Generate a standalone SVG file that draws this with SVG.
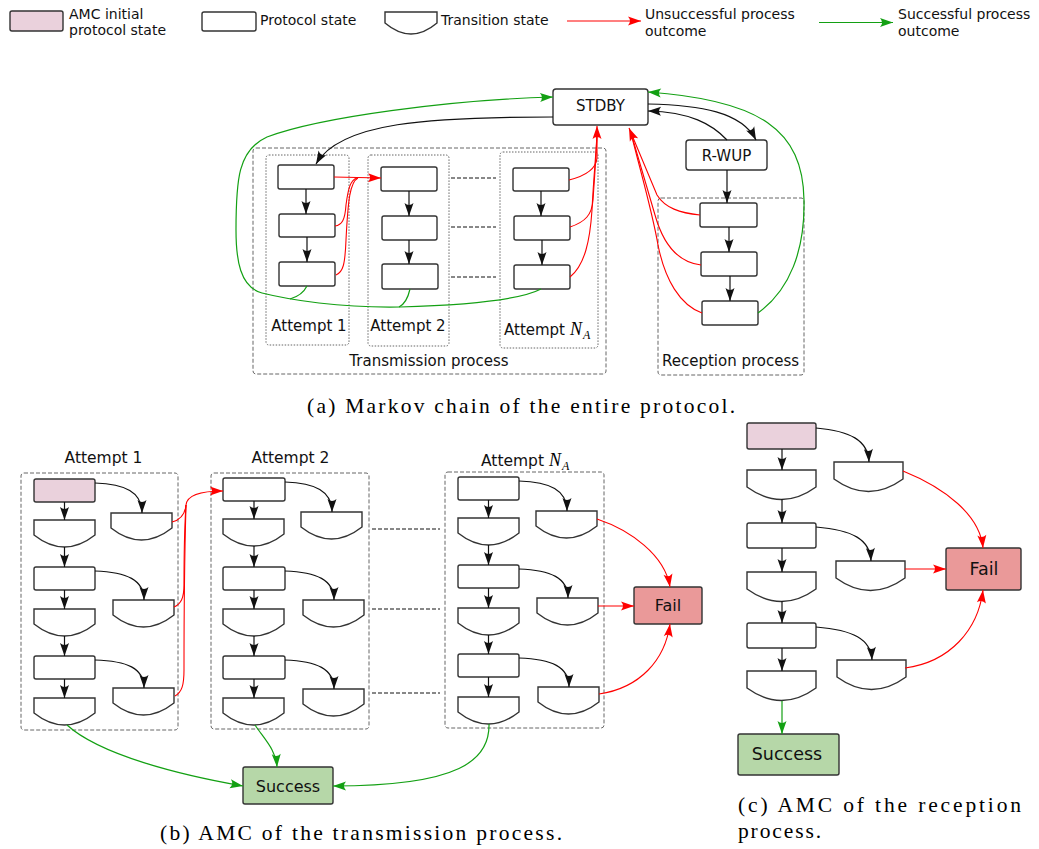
<svg xmlns="http://www.w3.org/2000/svg" width="1039" height="849" viewBox="0 0 1039 849">
<style>
.box{fill:#fff;stroke:#333;stroke-width:1.4}
.init{fill:#ead1dc;stroke:#333;stroke-width:1.4}
.ok{fill:#b6d7a8;stroke:#333;stroke-width:1.4}
.fail{fill:#ea9999;stroke:#333;stroke-width:1.4}
.dash{fill:none;stroke:#666;stroke-width:1;stroke-dasharray:4 2}
.dot{fill:none;stroke:#666;stroke-width:1;stroke-dasharray:1.5 1.5}
.k{fill:none;stroke:#111;stroke-width:1.2}
.r{fill:none;stroke:#f00;stroke-width:1.1}
.g{fill:none;stroke:#13a013;stroke-width:1.2}
.hd{fill:none;stroke:#111;stroke-width:1;stroke-dasharray:4 2}
.lbl{font-family:"DejaVu Sans","Liberation Sans",sans-serif;fill:#111}
.cap{font-family:"Liberation Serif",serif;font-size:21.5px;fill:#000}
.mi{font-family:"Liberation Serif",serif;font-style:italic}
</style>
<defs>
<marker id="ak" viewBox="-14 -6 15 12" refX="0" refY="0" markerWidth="15" markerHeight="12" markerUnits="userSpaceOnUse" orient="auto"><path d="M0,0 L-13,-4.5 Q-9,0 -13,4.5 Z" fill="#111"/></marker>
<marker id="ar" viewBox="-14 -6 15 12" refX="0" refY="0" markerWidth="15" markerHeight="12" markerUnits="userSpaceOnUse" orient="auto"><path d="M0,0 L-13,-4.5 Q-9,0 -13,4.5 Z" fill="#f00"/></marker>
<marker id="ag" viewBox="-14 -6 15 12" refX="0" refY="0" markerWidth="15" markerHeight="12" markerUnits="userSpaceOnUse" orient="auto"><path d="M0,0 L-13,-4.5 Q-9,0 -13,4.5 Z" fill="#13a013"/></marker>
<path id="tl" d="M0,0 H52 V11 Q26,33 0,11 Z"/>
<path id="tb" d="M0,0 H61 V15 Q30.5,39 0,15 Z"/>
<path id="tc" d="M0,0 H69 V17 Q34.5,42 0,17 Z"/>
</defs>

<!-- Legend -->
<g id="legend">
<rect class="init" x="10" y="11" width="53" height="20" rx="2"/>
<text class="lbl" font-size="14" x="69" y="19">AMC initial</text>
<text class="lbl" font-size="14" x="69" y="35">protocol state</text>
<rect class="box" x="202" y="12" width="54" height="19" rx="2"/>
<text class="lbl" font-size="14" x="260" y="24.5">Protocol state</text>
<use href="#tl" x="385" y="12" class="box"/>
<text class="lbl" font-size="14" x="441" y="24.5">Transition state</text>
<path class="r" d="M567,21 L641,21" marker-end="url(#ar)"/>
<text class="lbl" font-size="14" x="645" y="19">Unsuccessful process</text>
<text class="lbl" font-size="14" x="645" y="36">outcome</text>
<path class="g" d="M819,22.5 L893,22.5" marker-end="url(#ag)"/>
<text class="lbl" font-size="14" x="898" y="19">Successful process</text>
<text class="lbl" font-size="14" x="898" y="36">outcome</text>
</g>

<!-- Part (a) containers -->
<g id="a-transmission">
<rect class="dash" x="253" y="148" width="353" height="226" rx="3"/>
<text class="lbl" font-size="15" x="429" y="366" text-anchor="middle">Transmission process</text>
</g>
<g id="a-attempt1">
<rect class="dot" x="266" y="155" width="83" height="190" rx="3"/>
<text class="lbl" font-size="15" x="309" y="331" text-anchor="middle">Attempt 1</text>
</g>
<g id="a-attempt2">
<rect class="dot" x="368" y="155" width="81" height="191" rx="3"/>
<text class="lbl" font-size="15" x="408" y="331" text-anchor="middle">Attempt 2</text>
</g>
<g id="a-attemptNA">
<rect class="dot" x="500" y="152" width="98" height="196" rx="3"/>
<text class="lbl" font-size="15" x="504" y="335">Attempt</text>
<text class="mi" font-size="18" x="570" y="335">N</text>
<text class="mi" font-size="12" x="583" y="339">A</text>
</g>
<g id="a-reception">
<rect class="dash" x="658" y="198" width="146" height="177" rx="3"/>
<text class="lbl" font-size="15" x="730.5" y="366" text-anchor="middle">Reception process</text>
</g>

<!-- Part (a) nodes -->
<g id="stdby"><rect class="box" x="553" y="89" width="95" height="36" rx="3"/><text class="lbl" font-size="15" x="600.5" y="111" text-anchor="middle">STDBY</text></g>
<g id="rwup"><rect class="box" x="686" y="140" width="81" height="30" rx="3"/><text class="lbl" font-size="15" x="726.5" y="161" text-anchor="middle">R-WUP</text></g>
<g id="a1s1"><rect class="box" x="278" y="165" width="56" height="24" rx="2"/></g>
<g id="a1s2"><rect class="box" x="279" y="214" width="56" height="23" rx="2"/></g>
<g id="a1s3"><rect class="box" x="279" y="262" width="56" height="24" rx="2"/></g>
<g id="a2s1"><rect class="box" x="381" y="167" width="56" height="24" rx="2"/></g>
<g id="a2s2"><rect class="box" x="382" y="216" width="55" height="24" rx="2"/></g>
<g id="a2s3"><rect class="box" x="382" y="264" width="56" height="25" rx="2"/></g>
<g id="aNs1"><rect class="box" x="513" y="168" width="56" height="23" rx="2"/></g>
<g id="aNs2"><rect class="box" x="514" y="216" width="56" height="24" rx="2"/></g>
<g id="aNs3"><rect class="box" x="514" y="265" width="56" height="24" rx="2"/></g>
<g id="r1"><rect class="box" x="700" y="203" width="57" height="24" rx="2"/></g>
<g id="r2"><rect class="box" x="701" y="252" width="56" height="24" rx="2"/></g>
<g id="r3"><rect class="box" x="702" y="301" width="56" height="24" rx="2"/></g>

<!-- Part (b) containers -->
<g id="b-attempt1">
<rect class="dash" x="21" y="473" width="157" height="257" rx="3"/>
<text class="lbl" font-size="15.5" x="103.5" y="463" text-anchor="middle">Attempt 1</text>
</g>
<g id="b-attempt2">
<rect class="dash" x="211" y="473" width="158" height="256" rx="3"/>
<text class="lbl" font-size="15.5" x="290.5" y="463" text-anchor="middle">Attempt 2</text>
</g>
<g id="b-attemptNA">
<rect class="dash" x="445" y="472" width="159" height="256" rx="3"/>
<text class="lbl" font-size="15.5" x="481" y="466">Attempt</text>
<text class="mi" font-size="18" x="549" y="466">N</text>
<text class="mi" font-size="12" x="562" y="470">A</text>
</g>

<!-- Part (b) nodes: attempt 1 -->
<g id="b1p1"><rect class="init" x="34" y="479" width="61" height="23" rx="2"/></g>
<g id="b1l1"><use href="#tb" x="34" y="520" class="box"/></g>
<g id="b1r1"><use href="#tb" x="111" y="513" class="box"/></g>
<g id="b1p2"><rect class="box" x="34" y="567" width="61" height="23" rx="2"/></g>
<g id="b1l2"><use href="#tb" x="34" y="609" class="box"/></g>
<g id="b1r2"><use href="#tb" x="113" y="600" class="box"/></g>
<g id="b1p3"><rect class="box" x="34" y="656" width="61" height="23" rx="2"/></g>
<g id="b1l3"><use href="#tb" x="34" y="698" class="box"/></g>
<g id="b1r3"><use href="#tb" x="113" y="688" class="box"/></g>
<!-- attempt 2 -->
<g id="b2p1"><rect class="box" x="223" y="478" width="62" height="23" rx="2"/></g>
<g id="b2l1"><use href="#tb" x="223" y="519" class="box"/></g>
<g id="b2r1"><use href="#tb" x="301" y="512" class="box"/></g>
<g id="b2p2"><rect class="box" x="223" y="567" width="62" height="23" rx="2"/></g>
<g id="b2l2"><use href="#tb" x="223" y="609" class="box"/></g>
<g id="b2r2"><use href="#tb" x="303" y="600" class="box"/></g>
<g id="b2p3"><rect class="box" x="223" y="656" width="62" height="23" rx="2"/></g>
<g id="b2l3"><use href="#tb" x="223" y="698" class="box"/></g>
<g id="b2r3"><use href="#tb" x="303" y="689" class="box"/></g>
<!-- attempt NA -->
<g id="bNp1"><rect class="box" x="458" y="477" width="61" height="23" rx="2"/></g>
<g id="bNl1"><use href="#tb" x="458" y="518" class="box"/></g>
<g id="bNr1"><use href="#tb" x="536" y="511" class="box"/></g>
<g id="bNp2"><rect class="box" x="458" y="565" width="61" height="23" rx="2"/></g>
<g id="bNl2"><use href="#tb" x="458" y="608" class="box"/></g>
<g id="bNr2"><use href="#tb" x="537" y="598" class="box"/></g>
<g id="bNp3"><rect class="box" x="458" y="654" width="61" height="23" rx="2"/></g>
<g id="bNl3"><use href="#tb" x="458" y="697" class="box"/></g>
<g id="bNr3"><use href="#tb" x="538" y="687" class="box"/></g>
<g id="b-success"><rect class="ok" x="243" y="767" width="90" height="37" rx="2"/><text class="lbl" font-size="16" x="288" y="792" text-anchor="middle">Success</text></g>
<g id="b-fail"><rect class="fail" x="634" y="587" width="68" height="37" rx="2"/><text class="lbl" font-size="16" x="668" y="611" text-anchor="middle">Fail</text></g>

<!-- Part (c) nodes -->
<g id="c-p1"><rect class="init" x="747" y="423" width="69" height="26" rx="2"/></g>
<g id="c-l1"><use href="#tc" x="747" y="470" class="box"/></g>
<g id="c-r1"><use href="#tc" x="834" y="462" class="box"/></g>
<g id="c-p2"><rect class="box" x="747" y="523" width="69" height="25" rx="2"/></g>
<g id="c-l2"><use href="#tc" x="747" y="572" class="box"/></g>
<g id="c-r2"><use href="#tc" x="836" y="561" class="box"/></g>
<g id="c-p3"><rect class="box" x="747" y="623" width="69" height="25" rx="2"/></g>
<g id="c-l3"><use href="#tc" x="747" y="671" class="box"/></g>
<g id="c-r3"><use href="#tc" x="837" y="660" class="box"/></g>
<g id="c-success"><rect class="ok" x="738" y="734" width="101" height="41" rx="2"/><text class="lbl" font-size="17.5" x="787" y="760" text-anchor="middle">Success</text></g>
<g id="c-fail"><rect class="fail" x="946" y="548" width="75" height="42" rx="2"/><text class="lbl" font-size="17.5" x="984" y="575" text-anchor="middle">Fail</text></g>

<!-- Connectors -->
<g id="connectors">
<!-- (a) black -->
<path class="k" d="M553,117 C430,117 340,122 316,164" marker-end="url(#ak)"/>
<path class="k" d="M306,189 L306,214" marker-end="url(#ak)"/>
<path class="k" d="M307,237 L307,262" marker-end="url(#ak)"/>
<path class="k" d="M409,191 L409,216" marker-end="url(#ak)"/>
<path class="k" d="M409,240 L409,264" marker-end="url(#ak)"/>
<path class="k" d="M541,191 L541,216" marker-end="url(#ak)"/>
<path class="k" d="M542,240 L542,265" marker-end="url(#ak)"/>
<path class="k" d="M648,104 C700,105 742,112 756,140" marker-end="url(#ak)"/>
<path class="k" d="M727,140 C712,124 690,112 648,111" marker-end="url(#ak)"/>
<path class="k" d="M727,170 L727,203" marker-end="url(#ak)"/>
<path class="k" d="M729,227 L729,252" marker-end="url(#ak)"/>
<path class="k" d="M730,276 L730,301" marker-end="url(#ak)"/>
<path class="hd" d="M451,178 H496 M451,227 H496 M451,277 H496"/>
<!-- (a) red -->
<path class="r" d="M334,177 L381,178" marker-end="url(#ar)"/>
<path class="r" d="M335,226 C342,225 345,220 346,205 C348,190 350,180 357,178"/>
<path class="r" d="M336,275 C343,272 345,265 346,240 C348,200 350,182 358,178"/>
<path class="r" d="M569,180 C585,176 596,170 597,158 L597,126" marker-end="url(#ar)"/>
<path class="r" d="M570,227 C585,222 592,215 593,200 C595,170 597,145 597,130"/>
<path class="r" d="M570,277 C585,265 590,240 592,210 C594,170 597,145 597,130"/>
<path class="r" d="M700,215 C680,213 665,208 657,195 L629,128" marker-end="url(#ar)"/>
<path class="r" d="M701,265 C675,262 662,240 655,215 L631,133"/>
<path class="r" d="M702,313 C680,305 665,280 658,245 C652,210 640,170 631,133"/>
<!-- (a) green -->
<path class="g" d="M541,289 C520,300 470,305 400,307 C340,308 290,300 262,293 C240,287 236,260 236,230 C236,180 238,150 267,137 C320,117 450,100 553,97" marker-end="url(#ag)"/>
<path class="g" d="M307,286 C303,294 297,297 290,299"/>
<path class="g" d="M410,289 C408,298 405,304 399,307"/>
<path class="g" d="M758,313 C790,290 805,250 804,200 C803,130 760,100 648,92" marker-end="url(#ag)"/>

<!-- (b) black vertical -->
<path class="k" d="M64.5,502 V520" marker-end="url(#ak)"/>
<path class="k" d="M64.5,547 V567" marker-end="url(#ak)"/>
<path class="k" d="M64.5,590 V609" marker-end="url(#ak)"/>
<path class="k" d="M64.5,636 V656" marker-end="url(#ak)"/>
<path class="k" d="M64.5,679 V698" marker-end="url(#ak)"/>
<path class="k" d="M254,501 V519" marker-end="url(#ak)"/>
<path class="k" d="M254,546 V567" marker-end="url(#ak)"/>
<path class="k" d="M254,590 V609" marker-end="url(#ak)"/>
<path class="k" d="M254,636 V656" marker-end="url(#ak)"/>
<path class="k" d="M254,679 V698" marker-end="url(#ak)"/>
<path class="k" d="M488.5,500 V518" marker-end="url(#ak)"/>
<path class="k" d="M488.5,545 V565" marker-end="url(#ak)"/>
<path class="k" d="M488.5,588 V608" marker-end="url(#ak)"/>
<path class="k" d="M488.5,635 V654" marker-end="url(#ak)"/>
<path class="k" d="M488.5,677 V697" marker-end="url(#ak)"/>
<!-- (b) black curves -->
<path class="k" d="M95,483 C125,484 142,492 142,513" marker-end="url(#ak)"/>
<path class="k" d="M95,571 C127,572 144,580 144,600" marker-end="url(#ak)"/>
<path class="k" d="M95,660 C127,661 144,668 144,688" marker-end="url(#ak)"/>
<path class="k" d="M285,482 C315,483 332,491 332,512" marker-end="url(#ak)"/>
<path class="k" d="M285,571 C317,572 334,580 334,600" marker-end="url(#ak)"/>
<path class="k" d="M285,660 C317,661 334,669 334,689" marker-end="url(#ak)"/>
<path class="k" d="M519,481 C550,482 567,490 567,511" marker-end="url(#ak)"/>
<path class="k" d="M519,569 C551,570 568,578 568,598" marker-end="url(#ak)"/>
<path class="k" d="M519,658 C552,659 569,667 569,687" marker-end="url(#ak)"/>
<path class="hd" d="M372,529 H440 M372,609 H440 M372,693 H440"/>
<!-- (b) red -->
<path class="r" d="M172,522 C180,520 185,515 186,505 C187,495 200,491 223,491" marker-end="url(#ar)"/>
<path class="r" d="M174,607 C181,604 184,598 184,585 C184,560 185,520 186,505"/>
<path class="r" d="M175,696 C182,692 184,685 184,670 C184,600 185,540 186,505"/>
<path class="r" d="M597,519 C630,530 665,555 670,587" marker-end="url(#ar)"/>
<path class="r" d="M598,606 L634,606" marker-end="url(#ar)"/>
<path class="r" d="M599,694 C640,688 665,660 670,624" marker-end="url(#ar)"/>
<!-- (b) green -->
<path class="g" d="M67,725 C100,755 180,775 243,786" marker-end="url(#ag)"/>
<path class="g" d="M255,725 C265,740 276,750 277,767" marker-end="url(#ag)"/>
<path class="g" d="M489,724 C490,760 460,786 333,786" marker-end="url(#ag)"/>

<!-- (c) black -->
<path class="k" d="M782,449 V470" marker-end="url(#ak)"/>
<path class="k" d="M782,499 V523" marker-end="url(#ak)"/>
<path class="k" d="M782,548 V572" marker-end="url(#ak)"/>
<path class="k" d="M782,601 V623" marker-end="url(#ak)"/>
<path class="k" d="M782,648 V671" marker-end="url(#ak)"/>
<path class="k" d="M816,428 C850,431 868,440 869,462" marker-end="url(#ak)"/>
<path class="k" d="M816,527 C852,530 870,539 871,561" marker-end="url(#ak)"/>
<path class="k" d="M816,627 C853,630 871,639 872,660" marker-end="url(#ak)"/>
<!-- (c) red -->
<path class="r" d="M903,471 C945,488 980,515 983,548" marker-end="url(#ar)"/>
<path class="r" d="M905,569 L946,569" marker-end="url(#ar)"/>
<path class="r" d="M905,668 C950,662 978,630 983,590" marker-end="url(#ar)"/>
<!-- (c) green -->
<path class="g" d="M782,701 V734" marker-end="url(#ag)"/>
</g>

<!-- Captions -->
<text class="cap" x="307" y="413" textLength="428" lengthAdjust="spacing">(a) Markov chain of the entire protocol.</text>
<text class="cap" x="160" y="840" textLength="402" lengthAdjust="spacing">(b) AMC of the transmission process.</text>
<text class="cap" x="738" y="812" textLength="283" lengthAdjust="spacing">(c) AMC of the reception</text>
<text class="cap" x="738" y="838" textLength="83" lengthAdjust="spacing">process.</text>
</svg>
